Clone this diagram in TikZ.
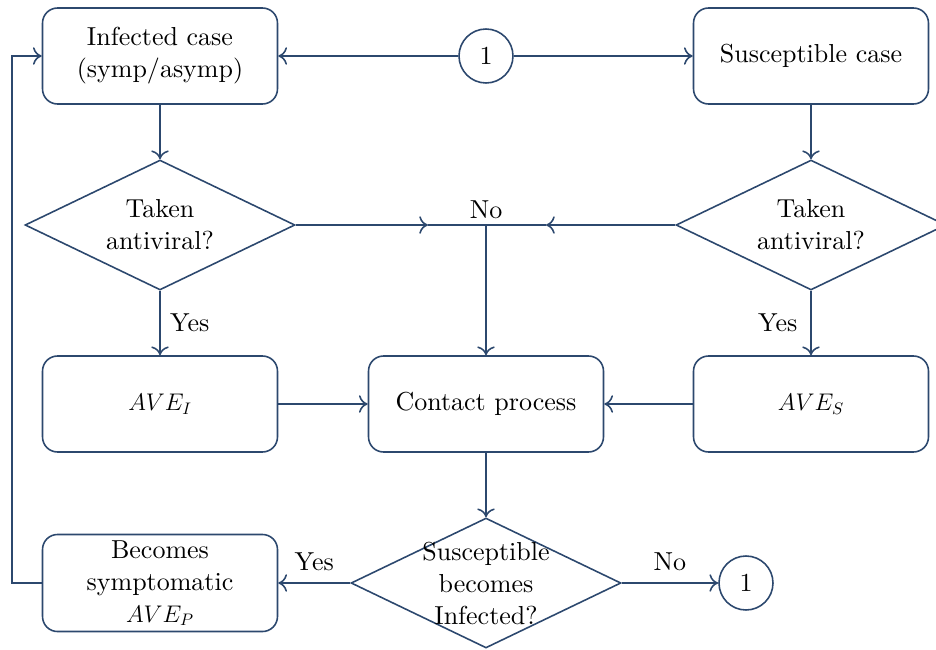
\documentclass[tikz,border=0pt]{standalone}
\usepackage{amsmath,amssymb}
\usepackage{graphicx}
\usepackage{tikz}
\usetikzlibrary{shapes.geometric}
\usetikzlibrary{arrows,arrows.meta}

\DeclareFontFamily{TU}{lmten}{}
\DeclareFontShape{TU}{lmten}{m}{n}{<-> "[lmroman10-regular]:+tlig;"}{}
\definecolor{flowblue}{RGB}{44,72,110}
\newcommand{\ave}[1]{\scalebox{0.95}{$AVE_{#1}$}}

\begin{document}
\begin{tikzpicture}[x=0.02cm,y=-0.02cm,
    every node/.append style={font=\fontfamily{lmten}\fontsize{14.8}{18.2}\selectfont},
    line/.style={draw=flowblue,line width=0.9pt},
    box/.style={line,rounded corners=0.3cm,minimum width=4.7cm,minimum height=1.92cm,align=center},
    decision/.style={line,diamond,minimum width=5.4cm,minimum height=2.6cm,inner sep=0pt},
    decisiontext/.style={align=center,inner sep=0pt},
    conn/.style={line,circle,minimum size=1.08cm,inner sep=0pt},
    flow/.style={draw=flowblue,line width=0.9pt,-{To[length=5pt,width=10pt]}}]
  \useasboundingbox (0,0) rectangle (936,649);

  \node[box] (inf) at (160,56) {Infected case\\(symp/asymp)};
  \node[conn] (top1) at (486,56) {1};
  \node[box] (sus) at (811,56) {Susceptible case};

  \node[decision,label={[decisiontext]center:{Taken\\antiviral?}}] (takeI) at (160,225) {};
  \node[decision,label={[decisiontext]center:{Taken\\antiviral?}}] (takeS) at (811,225) {};

  \node[box] (aveI) at (160,404) {\ave{I}};
  \node[box] (contact) at (486,404) {Contact process};
  \node[box] (aveS) at (811,404) {\ave{S}};

  \node[decision,label={[decisiontext]center:{Susceptible\\becomes\\Infected?}}] (becomes) at (486,583) {};
  \node[box] (symp) at (160,583) {Becomes\\symptomatic\\\ave{P}};
  \node[conn] (bot1) at (746,583) {1};

  \coordinate (join) at (486,225);
  \coordinate (tipI) at (428,225);
  \coordinate (tipS) at (546,225);

  \draw[flow] (top1) -- (inf);
  \draw[flow] (top1) -- (sus);
  \draw[flow] (inf) -- (takeI);
  \draw[flow] (sus) -- (takeS);
  \draw[flow] (takeI) -- node[right=2pt] {Yes} (aveI);
  \draw[flow] (takeS) -- node[left=4pt] {Yes} (aveS);
  \draw[flow] (takeI.east) -- (tipI);
  \draw[line] (tipI) -- (join);
  \draw[flow] (takeS.west) -- (tipS);
  \draw[line] (tipS) -- (join);
  \node[above=0pt] at (join) {No};
  \draw[flow] (join) -- (contact);
  \draw[flow] (aveI) -- (contact);
  \draw[flow] (aveS) -- (contact);
  \draw[flow] (contact) -- (becomes);
  \draw[flow] (becomes.west) -- node[above=3pt] {Yes} (symp);
  \draw[flow] (becomes.east) -- node[above=3pt] {No} (bot1);
  \draw[flow] (symp.west) -- ++(-30,0) |- (inf.west);
\end{tikzpicture}
\end{document}
